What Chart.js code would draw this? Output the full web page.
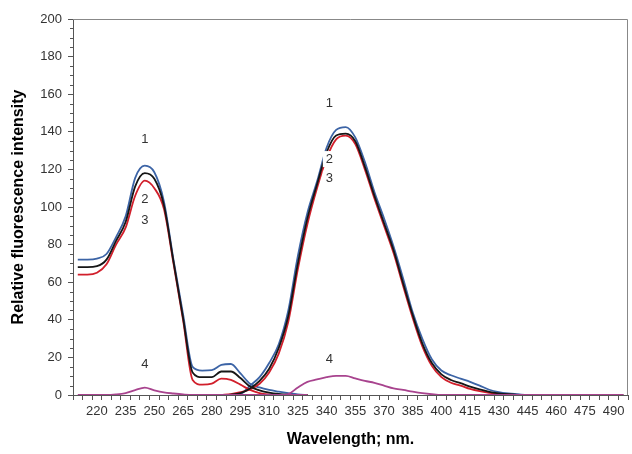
<!DOCTYPE html>
<html>
<head>
<meta charset="utf-8">
<script src="https://cdn.jsdelivr.net/npm/chart.js@4"></script>
<style>
  html, body { margin: 0; padding: 0; background: #fff; }
  #wrap { width: 632px; height: 454px; }
</style>
</head>
<body>
<div id="wrap"><canvas id="chart"></canvas></div>
<script>
// ---------- data ----------
// left group: excitation-like band, 210..330 nm
const wlLeft = [210,215,220,225,230,235,240,245,250,255,260,265,270,275,280,285,290,295,300,305,310,315,320,325,330];
const blueLeft    = [72,72,72.5,75,84,95,115.5,122,118.5,103,72,43,15,13,13.2,16,16.5,11.5,6,4,2.7,1.8,1,0.3,0];
const blackLeft   = [68,68,68.5,72,82,92,111,118,115,101,71,41,12,9.5,9.5,12.5,12.5,9,4.5,2.5,1.3,0.6,0.2,0,0];
const redLeft     = [64,64,65,69.5,80,89,106,114,110,99,70,40,8,5.5,6,8.7,8,5.5,2.7,1,0.3,0,0,0,0];
const magentaLeft = [0,0,0,0,0.3,1,2.6,3.9,2.5,1.4,0.8,0.3,0,0,0,0,0,0,0,0,0,0,0,0,0];

// right group: emission-like band, 285..495 nm
const wlRight = [285,290,295,300,305,310,315,320,325,330,335,340,345,350,355,360,365,370,375,380,385,390,395,400,405,410,415,420,425,430,435,440,445,450,455,460,465,470,475,480,485,490,495];
const blueRight    = [0,0,0.5,5,9.5,17,27,45,74,97,113.5,131.5,141,142.5,137,124,108,94,79,62,44,30,19,13,10.5,8.7,7,5,2.8,1.5,0.8,0.4,0,0,0,0,0,0,0,0,0,0,0];
const blackRight   = [0,0.2,1,3.5,7.5,14,25,42,70,94,112,129,138,139,135,121.5,106,91.5,77,59.5,42.5,27.5,17,11,8,6.3,4.5,3,1.7,0.9,0.4,0.1,0,0,0,0,0,0,0,0,0,0,0];
const redRight     = [0,0.5,1.5,3,6,12,22,39,67,91,110,126,136,138,133.5,120,104.5,90,75.5,58,41,26,15.5,9.5,6.5,5,3.2,2,1.2,0.6,0.2,0,0,0,0,0,0,0,0,0,0,0,0];
const magentaRight = [0,0,0,0,0,0,0,0.5,4,7,8.3,9.5,10.2,10.2,8.8,7.5,6.5,5,3.5,2.7,1.8,1,0.4,0,0,0,0,0,0,0,0,0,0,0,0,0,0,0,0,0,0,0,0];

// curve labels: [text, wavelength, intensity]
const curveLabels = [
  ['1', 245, 136], ['2', 245, 104], ['3', 245, 93], ['4', 245, 16],
  ['1', 341.5, 155], ['2', 341.5, 125.5], ['3', 341.5, 115], ['4', 341.5, 19]
];

const xTickLabels = [220,235,250,265,280,295,310,325,340,355,370,385,400,415,430,445,460,475,490];

const COLORS = { blue: '#3c64a6', black: '#161616', red: '#d11f2b', magenta: '#a8438e' };
const AXIS = '#555';
const TEXT = '#333';

// ---------- helpers ----------
const pts = (xs, ys) => xs.map((x, i) => ({ x, y: ys[i] }));
function line(data, color) {
  return {
    data, borderColor: color, borderWidth: 1.8, pointRadius: 0,
    cubicInterpolationMode: 'monotone', fill: false
  };
}

// frame + minor y ticks
const framePlugin = {
  id: 'frame',
  afterDraw(chart) {
    const { ctx, chartArea: a, scales: { y } } = chart;
    ctx.save();
    ctx.strokeStyle = '#888';
    ctx.lineWidth = 1;
    ctx.beginPath();
    ctx.moveTo(a.left, a.top + 0.5); ctx.lineTo(a.right - 0.5, a.top + 0.5);
    ctx.lineTo(a.right - 0.5, a.bottom);
    ctx.stroke();
    ctx.strokeStyle = AXIS;
    ctx.beginPath();
    for (let v = 5; v < 200; v += 5) {
      if (v % 20 === 0) continue;
      const py = Math.round(y.getPixelForValue(v)) + 0.5;
      ctx.moveTo(a.left - 3, py); ctx.lineTo(a.left, py);
    }
    ctx.stroke();
    ctx.restore();
  }
};

// number labels on the curves, on a white box
const labelPlugin = {
  id: 'curveLabels',
  afterDatasetsDraw(chart) {
    const { ctx, scales: { x, y } } = chart;
    ctx.save();
    ctx.font = '13px "Liberation Sans", Arial, sans-serif';
    ctx.textAlign = 'center';
    ctx.textBaseline = 'middle';
    curveLabels.forEach(([t, wx, wy]) => {
      const px = x.getPixelForValue(wx), py = y.getPixelForValue(wy);
      const w = ctx.measureText(t).width;
      ctx.fillStyle = '#fff';
      ctx.fillRect(px - w / 2 - 3, py - 8, w + 6, 16);
      ctx.fillStyle = TEXT;
      ctx.fillText(t, px, py);
    });
    ctx.restore();
  }
};

const font = { family: '"Liberation Sans", Arial, sans-serif', size: 13 };
const titleFont = { family: '"Liberation Sans", Arial, sans-serif', size: 16, weight: 'bold' };

new Chart(document.getElementById('chart'), {
  type: 'line',
  data: {
    datasets: [
      line(pts(wlLeft, magentaLeft), COLORS.magenta),
      line(pts(wlRight, magentaRight), COLORS.magenta),
      line(pts(wlLeft, blackLeft), COLORS.black),
      line(pts(wlRight, blackRight), COLORS.black),
      line(pts(wlLeft, redLeft), COLORS.red),
      line(pts(wlRight, redRight), COLORS.red),
      line(pts(wlLeft, blueLeft), COLORS.blue),
      line(pts(wlRight, blueRight), COLORS.blue)
    ]
  },
  options: {
    responsive: true, maintainAspectRatio: false, animation: false,
    layout: { padding: { top: 19, right: 3, left: 0, bottom: 0 } },
    plugins: { legend: { display: false }, tooltip: { enabled: false } },
    scales: {
      x: {
        type: 'linear', min: 207.5, max: 497.5,
        afterBuildTicks: s => {
          const t = [];
          for (let v = 207.5; v <= 497.5; v += 2.5) t.push({ value: v });
          s.ticks = t;
        },
        afterFit: s => { s.height = 59; },
        grid: {
          drawOnChartArea: false, tickLength: 5,
          tickColor: c => ((c.tick.value - 207.5) % 5 === 0 ? AXIS : 'rgba(0,0,0,0)')
        },
        border: { color: AXIS, width: 1 },
        ticks: {
          autoSkip: false, maxRotation: 0, minRotation: 0, padding: 4,
          color: TEXT, font,
          callback: v => (xTickLabels.includes(v) ? String(v) : '')
        },
        title: { display: true, text: 'Wavelength; nm.', color: '#000', font: titleFont, padding: { top: 0, bottom: 5 } }
      },
      y: {
        min: 0, max: 200,
        afterBuildTicks: s => {
          const t = [];
          for (let v = 0; v <= 200; v += 5) t.push({ value: v });
          s.ticks = t;
        },
        afterFit: s => { s.width = 73; },
        grid: {
          drawOnChartArea: false, tickLength: 5,
          tickColor: c => (c.tick.value % 20 === 0 ? AXIS : 'rgba(0,0,0,0)')
        },
        border: { color: AXIS, width: 1 },
        ticks: {
          autoSkip: false, padding: 6, color: TEXT, font,
          callback: v => (v % 20 === 0 ? String(v) : '')
        },
        title: { display: true, text: 'Relative fluorescence intensity', color: '#000', font: titleFont, padding: { top: 9, bottom: 0 } }
      }
    }
  },
  plugins: [framePlugin, labelPlugin]
});
</script>
</body>
</html>
